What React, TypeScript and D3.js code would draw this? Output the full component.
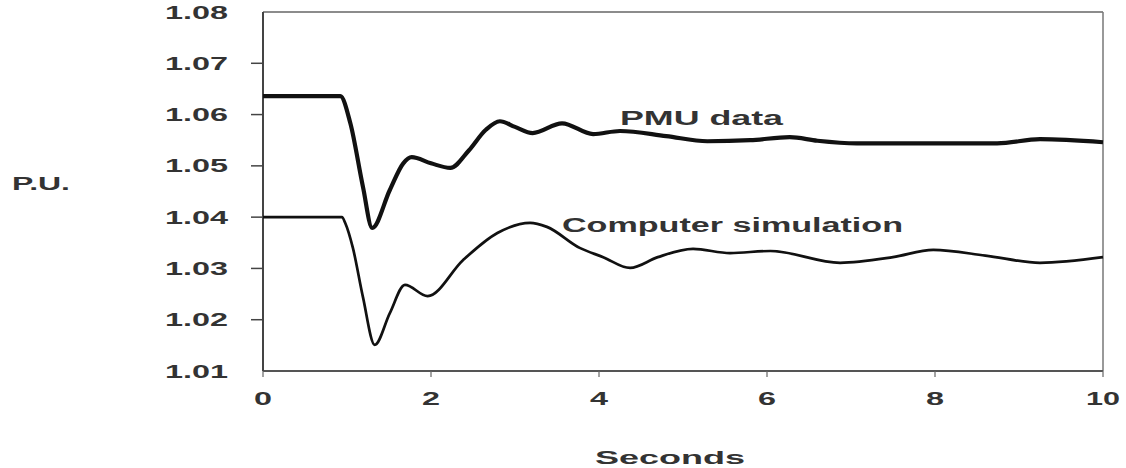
import React from "react";
import * as d3 from "d3";

const pmuT = [0, 0.5, 0.92, 1.04, 1.19, 1.3, 1.51, 1.67, 1.77, 2.0, 2.23, 2.45, 2.65, 2.82, 3.0, 3.21, 3.56, 3.93, 4.25, 4.8, 5.29, 5.8, 6.27, 6.6, 7.07, 8.0, 8.74, 9.25, 10];
const pmuV = [1.0636, 1.0636, 1.0636, 1.0583, 1.0459, 1.0379, 1.0453, 1.0505, 1.0517, 1.0505, 1.0496, 1.053, 1.057, 1.0587, 1.0576, 1.0564, 1.0583, 1.0562, 1.0568, 1.0558, 1.0548, 1.055, 1.0556, 1.0549, 1.0544, 1.0544, 1.0544, 1.0552, 1.0546];

const simT = [0, 0.5, 0.94, 0.98, 1.07, 1.19, 1.33, 1.51, 1.69, 1.96, 2.38, 2.79, 3.18, 3.38, 3.77, 4.05, 4.37, 4.7, 5.12, 5.56, 6.04, 6.87, 7.5, 7.98, 8.6, 9.25, 10];
const simV = [1.04, 1.04, 1.04, 1.0388, 1.034, 1.0244, 1.0151, 1.0213, 1.0268, 1.0246, 1.0316, 1.0369, 1.0389, 1.0381, 1.034, 1.0322, 1.0301, 1.0322, 1.0338, 1.033, 1.0334, 1.0311, 1.0322, 1.0336, 1.0325, 1.0311, 1.0322];

const yTicks = [1.01, 1.02, 1.03, 1.04, 1.05, 1.06, 1.07, 1.08];
const xTicks = [0, 2, 4, 6, 8, 10];

export default function App() {
  const x = d3.scaleLinear().domain([0, 10]).range([263, 1103]);
  const y = d3.scaleLinear().domain([1.01, 1.08]).range([371, 12]);
  const line = d3
    .line<[number, number]>()
    .x((d) => x(d[0]))
    .y((d) => y(d[1]))
    .curve(d3.curveMonotoneX);
  const pmu = pmuT.map((t, i) => [t, pmuV[i]] as [number, number]);
  const sim = simT.map((t, i) => [t, simV[i]] as [number, number]);
  const font = "'Liberation Sans', Arial, sans-serif";
  const txt = "#333";
  return (
    <svg width={1126} height={468} style={{ position: "absolute", left: 0, top: 0, background: "#fff" }}>
      {/* frame */}
      <line x1={x(0)} x2={x(10)} y1={y(1.08)} y2={y(1.08)} stroke="#666" strokeWidth={1.5} />
      <line x1={x(10)} x2={x(10)} y1={y(1.08)} y2={y(1.01)} stroke="#777" strokeWidth={1.5} />
      <line x1={x(0)} x2={x(10)} y1={y(1.01)} y2={y(1.01)} stroke="#555" strokeWidth={2} />
      <line x1={x(0)} x2={x(0)} y1={y(1.08)} y2={y(1.01)} stroke="#444" strokeWidth={2} />
      {yTicks.map((v) => (
        <g key={v}>
          {v !== 1.08 && v !== 1.01 && (
            <line x1={x(0) - 12} x2={x(0)} y1={y(v)} y2={y(v)} stroke="#444" strokeWidth={1.5} />
          )}
          <text
            x={228}
            y={y(v) + 6.5}
            textAnchor="end"
            fontFamily={font}
            fontWeight="bold"
            fontSize={18}
            fill={txt}
            textLength={63}
            lengthAdjust="spacingAndGlyphs"
          >
            {v.toFixed(2)}
          </text>
        </g>
      ))}
      {xTicks.map((t) => (
        <g key={t}>
          <line x1={x(t)} x2={x(t)} y1={y(1.01)} y2={y(1.01) + 6} stroke="#666" strokeWidth={1.2} />
          <text
            x={x(t)}
            y={405}
            textAnchor="middle"
            fontFamily={font}
            fontWeight="bold"
            fontSize={18}
            fill={txt}
            textLength={t === 10 ? 34 : 18}
            lengthAdjust="spacingAndGlyphs"
          >
            {t}
          </text>
        </g>
      ))}
      <path d={line(sim) ?? ""} fill="none" stroke="#111" strokeWidth={2.7} strokeLinejoin="round" />
      <path d={line(pmu) ?? ""} fill="none" stroke="#111" strokeWidth={4.2} strokeLinejoin="round" />
      <text x={620} y={125} fontFamily={font} fontWeight="bold" fontSize={20} fill={txt} textLength={163} lengthAdjust="spacingAndGlyphs">
        PMU data
      </text>
      <text x={562} y={232} fontFamily={font} fontWeight="bold" fontSize={20} fill={txt} textLength={341} lengthAdjust="spacingAndGlyphs">
        Computer simulation
      </text>
      <text x={12} y={190} fontFamily={font} fontWeight="bold" fontSize={18} fill={txt} textLength={58} lengthAdjust="spacingAndGlyphs">
        P.U.
      </text>
      <text x={595} y={464} fontFamily={font} fontWeight="bold" fontSize={19} fill={txt} textLength={150} lengthAdjust="spacingAndGlyphs">
        Seconds
      </text>
    </svg>
  );
}
